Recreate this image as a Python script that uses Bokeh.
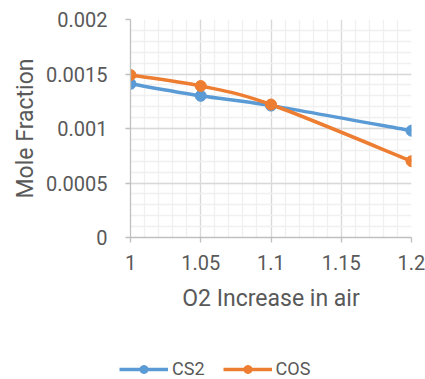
from bokeh.plotting import figure
from bokeh.layouts import column, row
from bokeh.models import (Range1d, FixedTicker, CustomJSTickFormatter, Legend,
                          LegendItem, ColumnDataSource)
from bokeh.embed import file_html
from bokeh.resources import INLINE

# ---- data ----
o2_increase = [1.0, 1.05, 1.1, 1.2]
cs2 = [0.00141, 0.00130, 0.00121, 0.00098]
cos = [0.00149, 0.00139, 0.00122, 0.00070]
series_names = ["CS2", "COS"]
series_colors = ["#5B9BD5", "#ED7D31"]
x_ticks = [1.0, 1.05, 1.1, 1.15, 1.2]
y_ticks = [0.0, 0.0005, 0.001, 0.0015, 0.002]
x_title = "O2 Increase in air"
y_title = "Mole Fraction"

FONT = "Roboto"
TXT = "#595959"

p = figure(width=425, height=319, output_backend="svg", toolbar_location=None,
           x_range=Range1d(1.0, 1.2), y_range=Range1d(0.0, 0.002),
           min_border_left=130, min_border_right=14, min_border_top=19,
           min_border_bottom=82)
p.outline_line_color = None
p.background_fill_color = "white"
p.border_fill_color = "white"

p.xaxis.ticker = FixedTicker(ticks=x_ticks, minor_ticks=[round(1.0 + 0.01 * i, 2) for i in range(21)])
p.yaxis.ticker = FixedTicker(ticks=y_ticks, minor_ticks=[round(0.0001 * i, 4) for i in range(21)])
p.xaxis.formatter = CustomJSTickFormatter(code="return tick.toString();")
p.yaxis.formatter = CustomJSTickFormatter(code="return tick.toString();")

for ax in (p.xaxis, p.yaxis):
    ax.axis_line_color = "#BFBFBF"
    ax.axis_line_width = 1.3
    ax.major_tick_line_color = "#BFBFBF"
    ax.major_tick_line_width = 1.3
    ax.major_tick_in = 0
    ax.major_tick_out = 5
    ax.minor_tick_in = 0
    ax.minor_tick_out = 0
    ax.major_label_text_font = FONT
    ax.major_label_text_font_size = "20px"
    ax.major_label_text_color = TXT
    ax.axis_label_text_font = FONT
    ax.axis_label_text_font_size = "23px"
    ax.axis_label_text_color = TXT
    ax.axis_label_text_font_style = "normal"

p.xaxis.axis_label = x_title
p.yaxis.axis_label = y_title
p.xaxis.major_label_standoff = 12
p.yaxis.major_label_standoff = 18
p.xaxis.axis_label_standoff = 12
p.yaxis.axis_label_standoff = 4

for g in (p.xgrid, p.ygrid):
    g.grid_line_color = "#D9D9D9"
    g.grid_line_width = 1.3
    g.minor_grid_line_color = "#F0F0F0"
    g.minor_grid_line_width = 1.3


def smooth(xs, ys, t=1.0 / 6.0):
    n = len(xs)
    d = dict(x0=[], y0=[], x1=[], y1=[], cx0=[], cy0=[], cx1=[], cy1=[])
    for i in range(n - 1):
        a = i - 1 if i > 0 else i
        b = i + 2 if i + 2 < n else i + 1
        d["x0"].append(xs[i]); d["y0"].append(ys[i])
        d["x1"].append(xs[i + 1]); d["y1"].append(ys[i + 1])
        d["cx0"].append(xs[i] + (xs[i + 1] - xs[a]) * t)
        d["cy0"].append(ys[i] + (ys[i + 1] - ys[a]) * t)
        d["cx1"].append(xs[i + 1] - (xs[b] - xs[i]) * t)
        d["cy1"].append(ys[i + 1] - (ys[b] - ys[i]) * t)
    return ColumnDataSource(d)


# legend strip (separate small figure below the chart; its data lies out of view)
q = figure(width=425, height=60, output_backend="svg", toolbar_location=None,
           x_range=Range1d(-1, 0), y_range=Range1d(-1, 0),
           min_border=0, min_border_left=0, min_border_right=0,
           min_border_top=0, min_border_bottom=0)
q.axis.visible = False
q.grid.visible = False
q.outline_line_color = None
q.border_fill_color = "white"

items = []
for name, ys, col in zip(series_names, [cs2, cos], series_colors):
    p.bezier(x0="x0", y0="y0", x1="x1", y1="y1", cx0="cx0", cy0="cy0",
             cx1="cx1", cy1="cy1", source=smooth(o2_increase, ys),
             line_color=col, line_width=3.5)
    p.scatter(o2_increase, ys, marker="circle", size=11,
              fill_color=col, line_color=col)
    lg = q.line(o2_increase, ys, line_color=col, line_width=3.5)
    mk = q.scatter(o2_increase, ys, marker="circle", size=11, fill_color=col, line_color=col)
    items.append(LegendItem(label=name, renderers=[lg, mk]))

legend = Legend(items=items, orientation="horizontal", location=(119, 0),
                glyph_width=49, glyph_height=20, label_standoff=4, spacing=18,
                padding=0, margin=0, border_line_color=None,
                background_fill_alpha=0,
                label_text_font=FONT, label_text_font_size="18px",
                label_text_color=TXT)
q.add_layout(legend, "center")

layout = column(p, row(q), spacing=0)
open("out.html", "w").write(file_html(layout, INLINE))
